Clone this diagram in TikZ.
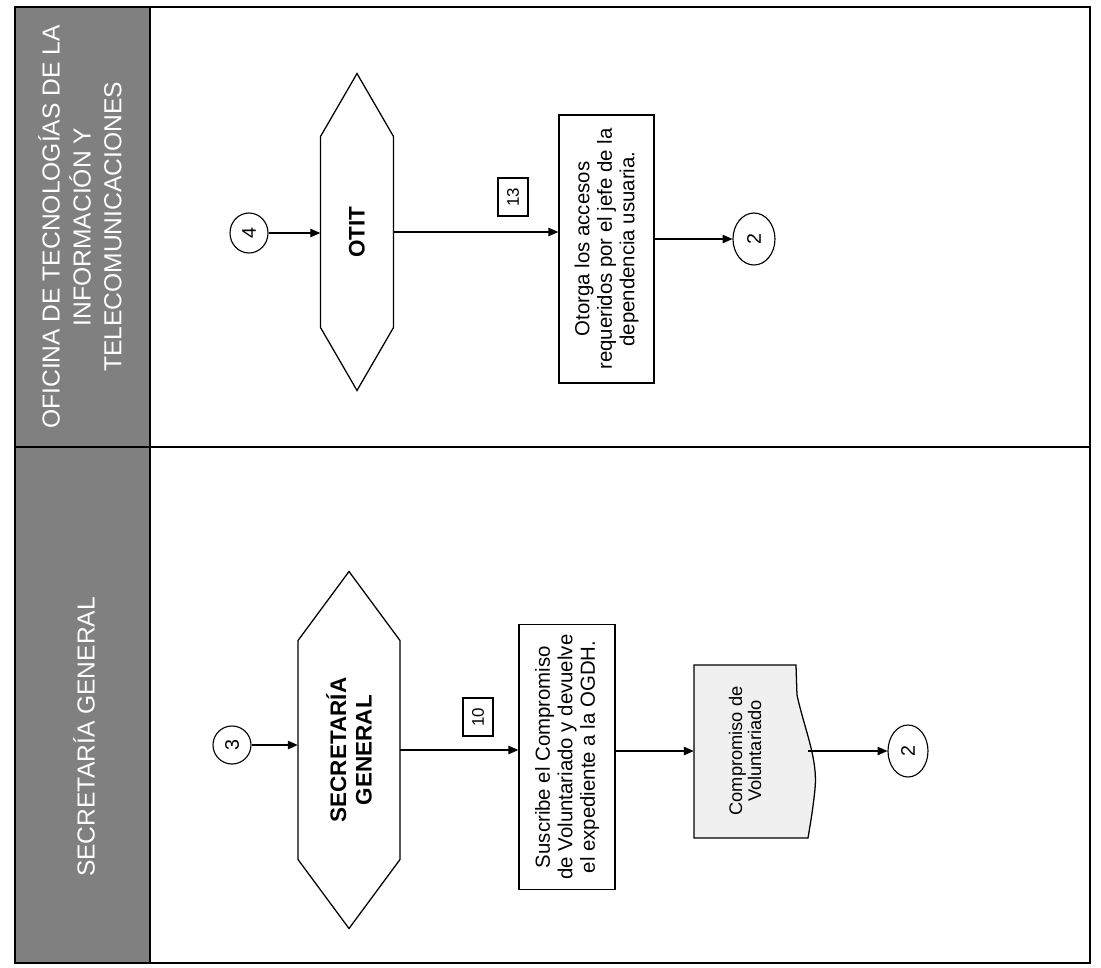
\documentclass[tikz,border=0pt]{standalone}
\usepackage{fontspec}
\setmainfont{Liberation Sans}
\usetikzlibrary{shapes.geometric,arrows.meta,calc}

\begin{document}
\begin{tikzpicture}[
  x=0.025cm, y=-0.025cm,
  frm/.style={line width=1.3pt},
  line/.style={line width=0.9pt},
  arr/.style={line width=0.8pt, -{Triangle[length=7pt,width=6pt]}},
  conn/.style={ellipse, draw, line width=0.8pt, rotate=90, inner sep=0pt, font=\fontsize{14}{14}\selectfont},
  proc/.style={rectangle, draw, line width=1pt, rotate=90, align=center, inner sep=2pt, font=\fontsize{14.5}{16}\selectfont},
  actor/.style={rotate=90, align=center, inner sep=0pt, font=\fontsize{16}{18}\selectfont\bfseries},
  num/.style={rectangle, draw, line width=0.8pt, rotate=90, minimum width=0.95cm, minimum height=0.75cm, inner sep=0pt, font=\fontsize{12}{12}\selectfont},
  hdr/.style={rotate=90, align=center, text=white, font=\fontsize{17.5}{22}\selectfont},
]
\useasboundingbox (0,0) rectangle (1101,968);

% ====== Swimlanes ======
\fill[black!50] (15,7) rectangle (150,963);
\draw[frm] (15,7) rectangle (1090,963);
\draw[frm] (15,447) -- (1090,447);
\draw[line] (150,7) -- (150,963);
\node[hdr] (hdrA) at (80,227) {OFICINA DE TECNOLOGÍAS DE LA\\INFORMACIÓN Y\\TELECOMUNICACIONES};
\node[hdr] (hdrB) at (84,737) {SECRETARÍA GENERAL};

% ====== OTIT lane ======
\node[conn, minimum width=1cm, minimum height=0.95cm] (c4) at (249,233) {4};
\node[actor, minimum width=7.925cm, minimum height=1.825cm] (otit) at (357,232) {OTIT};
\node[num] (n13) at (513,197) {13};
\node[proc, minimum width=6.7cm, minimum height=2.375cm] (acc) at (606.5,249)
  {Otorga los accesos\\requeridos por el jefe de la\\dependencia usuaria.};
\node[conn, minimum width=1.3cm, minimum height=1.05cm] (c2a) at (754,239) {2};

% ====== Secretaria General lane ======
\node[conn, minimum width=0.95cm, minimum height=0.95cm] (c3) at (232,745) {3};
\node[actor, minimum width=8.925cm, minimum height=2.55cm] (sg) at (349,750) {SECRETARÍA\\GENERAL};
\node[num] (n10) at (478,717) {10};
\node[proc, minimum width=6.625cm, minimum height=2.4cm] (sub) at (567,757)
  {Suscribe el Compromiso\\de Voluntariado y devuelve\\el expediente a la OGDH.};
\coordinate (docc) at (745,751);
\draw[line, fill=gray!12] ($(docc)+(-51,-86)$) -- ($(docc)+(51,-86)$) -- ($(docc)+(52,-56)$)
  .. controls ($(docc)+(60,-20)$) and ($(docc)+(73,8)$) .. ($(docc)+(70,38)$)
  .. controls ($(docc)+(68,58)$) and ($(docc)+(65,75)$) .. ($(docc)+(63,87)$)
  -- ($(docc)+(-51,87)$) -- cycle;
\node[rotate=90, align=center, inner sep=0pt, minimum width=4.325cm, minimum height=2.55cm,
  font=\fontsize{13}{13.5}\selectfont] (doc) at (docc) {Compromiso de\\Voluntariado};
\node[conn, minimum width=1.3cm, minimum height=1cm] (c2b) at (908,751) {2};

% hexagons round the actors
\foreach \n/\w/\h/\p in {otit/36.5/158.5/63, sg/51/178.5/69} {
  \draw[line] ($(\n)+(0,-\h)$) -- ($(\n)+(\w,-\h+\p)$) -- ($(\n)+(\w,\h-\p)$)
    -- ($(\n)+(0,\h)$) -- ($(\n)+(-\w,\h-\p)$) -- ($(\n)+(-\w,-\h+\p)$) -- cycle;
}

% ====== Connectors ======
\draw[arr] (c4) -- (c4 -| otit.north);
\draw[arr] (otit.south) -- (otit.south -| acc.north);
\draw[arr] (acc.south |- c2a) -- (c2a);
\draw[arr] (c3) -- (c3 -| sg.north);
\draw[arr] (sg.south) -- (sg.south -| sub.north);
\draw[arr] (sub.south |- doc) -- (doc.north);
\draw[arr] ([xshift=0.3cm]doc.south) -- (c2b);

\end{tikzpicture}
\end{document}
